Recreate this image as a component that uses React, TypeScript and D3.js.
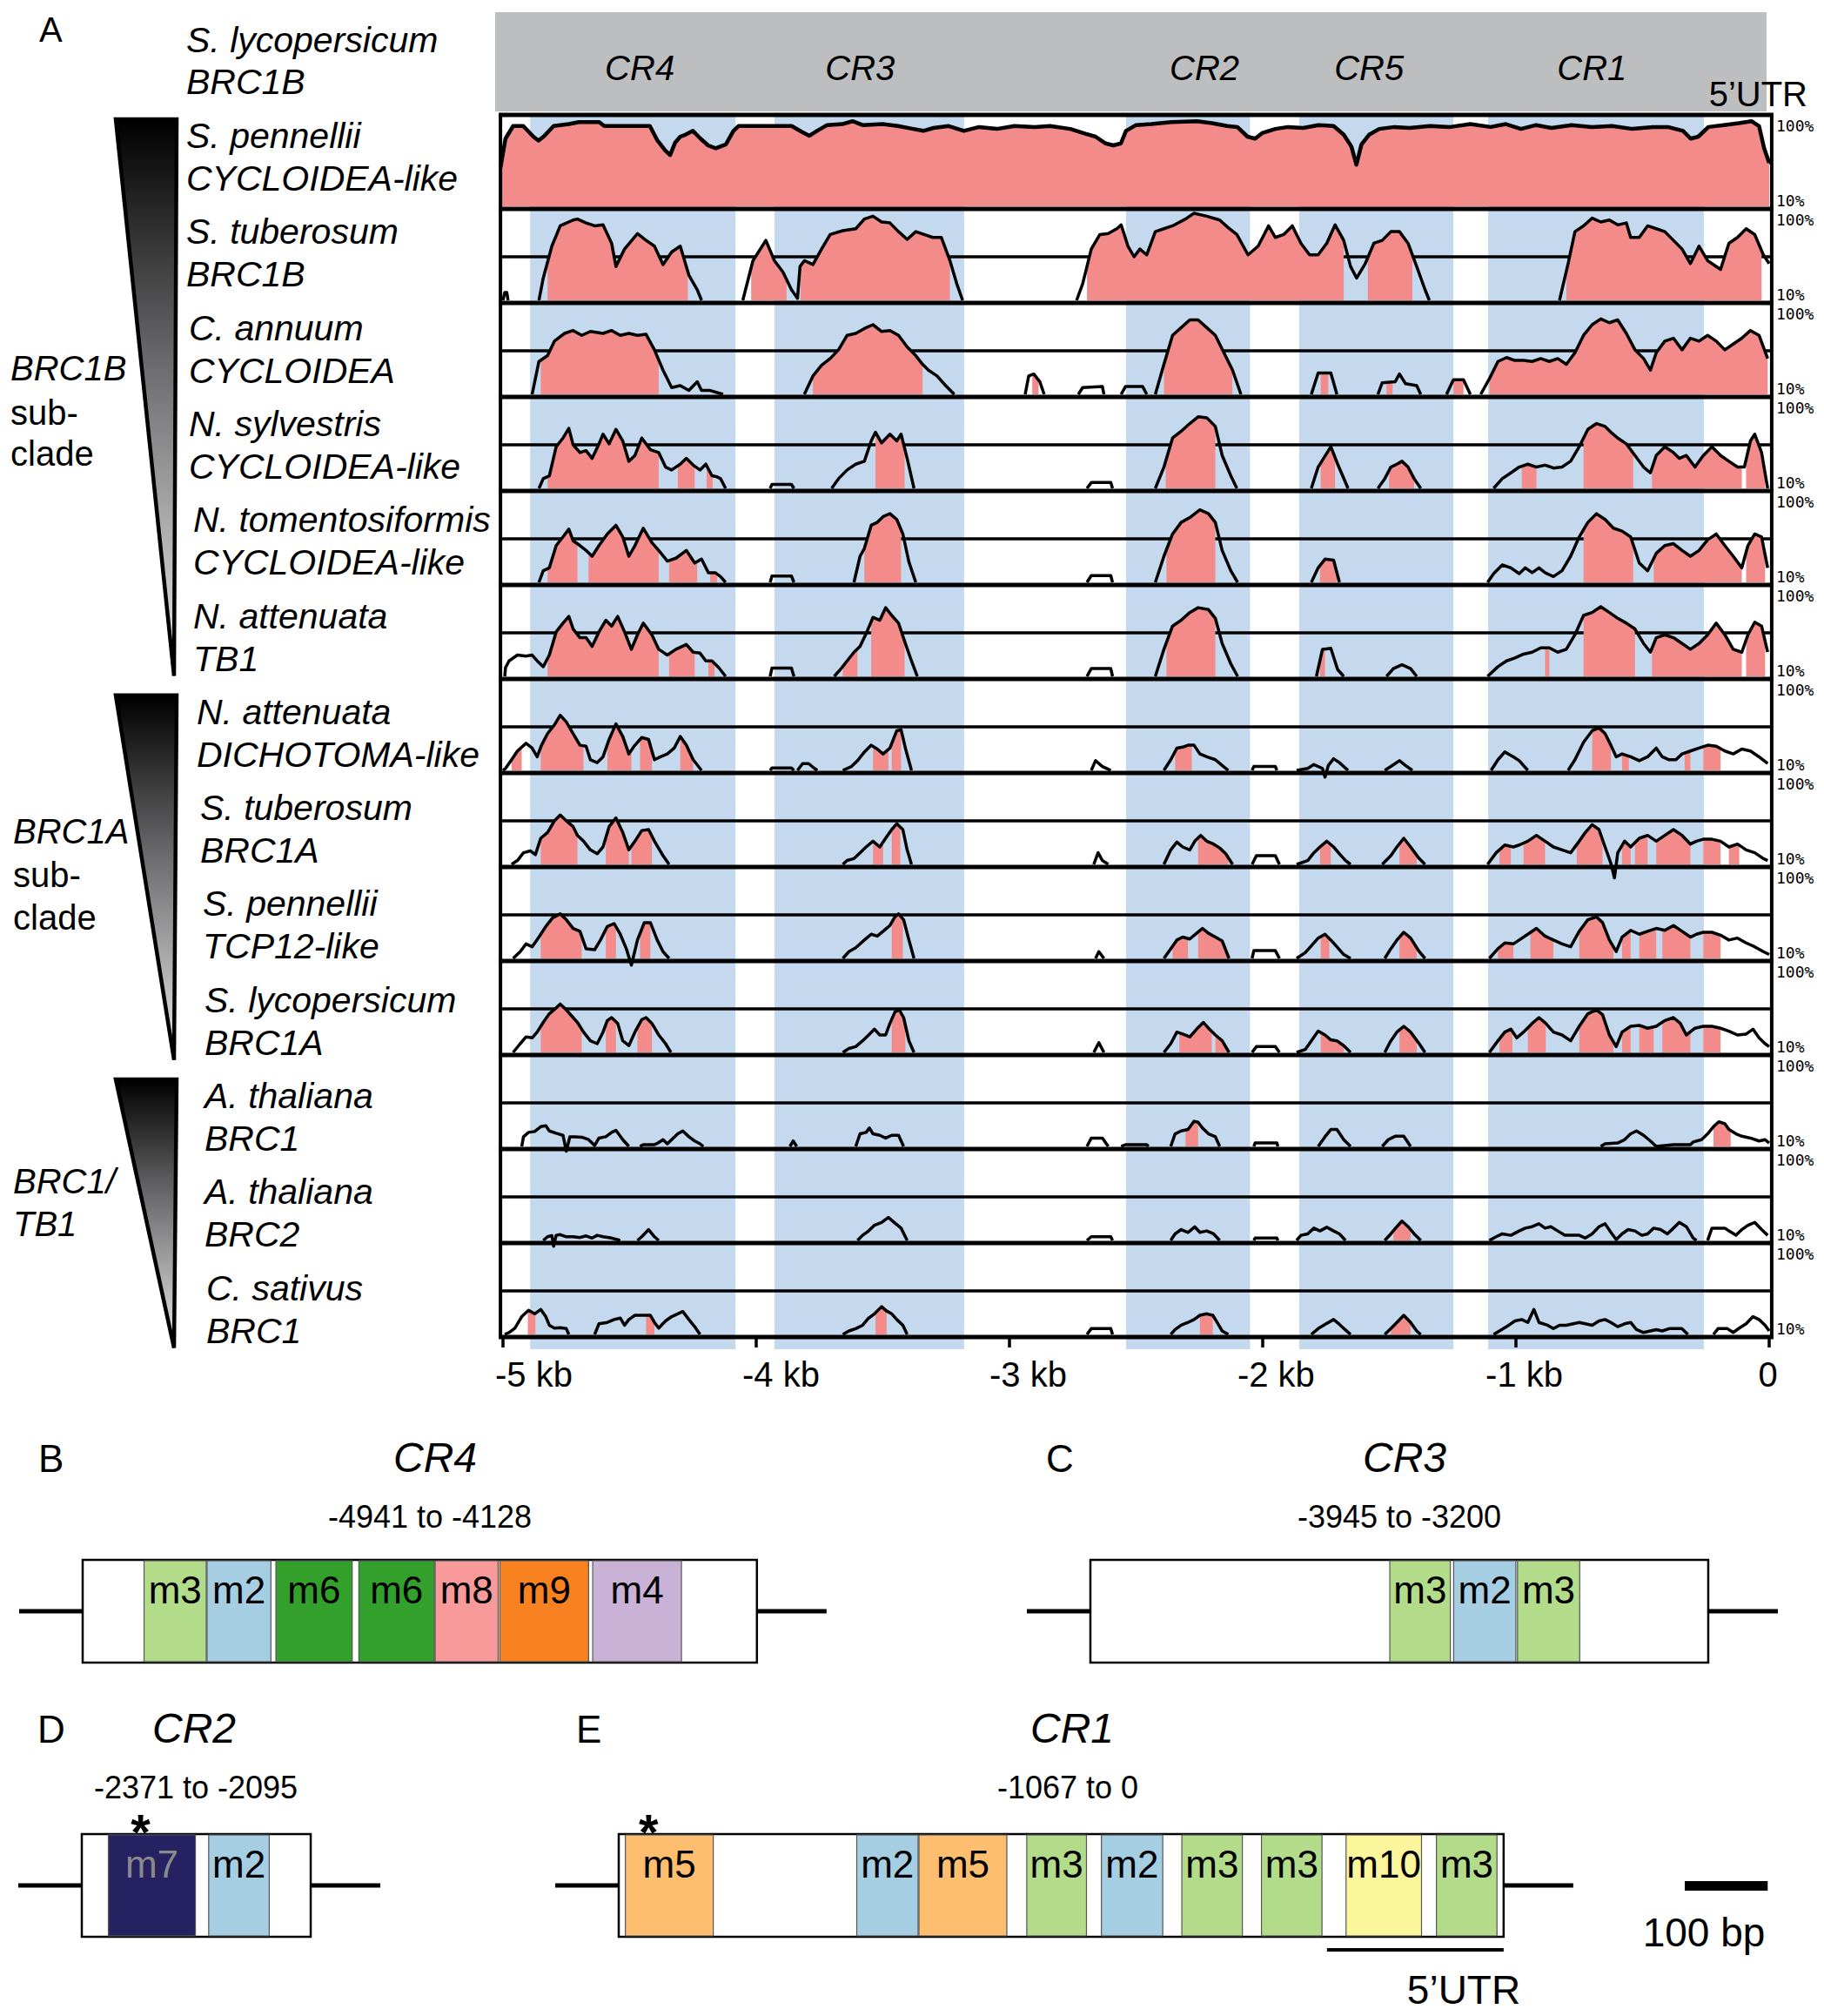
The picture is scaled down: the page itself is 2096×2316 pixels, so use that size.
import React, { useEffect, useRef } from 'react';
import * as d3 from 'd3';

type Pt = [number, number];
type Span = [number, number];
type Motif = [string, number, number];

const W = 2096;
const H = 2316;
const FONT = "'Liberation Sans', Arial, Helvetica, sans-serif";

// ---------- panel A data ----------
const refName = ['S. lycopersicum', 'BRC1B'];
const speciesNames: [string, string][] = [
  ['S. pennellii', 'CYCLOIDEA-like'],
  ['S. tuberosum', 'BRC1B'],
  ['C. annuum', 'CYCLOIDEA'],
  ['N. sylvestris', 'CYCLOIDEA-like'],
  ['N. tomentosiformis', 'CYCLOIDEA-like'],
  ['N. attenuata', 'TB1'],
  ['N. attenuata', 'DICHOTOMA-like'],
  ['S. tuberosum', 'BRC1A'],
  ['S. pennellii', 'TCP12-like'],
  ['S. lycopersicum', 'BRC1A'],
  ['A. thaliana', 'BRC1'],
  ['A. thaliana', 'BRC2'],
  ['C. sativus', 'BRC1'],
];
const cladeNames = [
  { lines: ['BRC1B', 'sub-', 'clade'], italic: [true, false, false], first: 0, last: 5 },
  { lines: ['BRC1A', 'sub-', 'clade'], italic: [true, false, false], first: 6, last: 9 },
  { lines: ['BRC1/', 'TB1'], italic: [true, true], first: 10, last: 12 },
];
const cnsBands: Span[] = [[-4.893, -4.082], [-3.928, -3.179], [-2.54, -2.05], [-1.856, -1.247], [-1.11, -0.258]];
const crNames = ['CR4', 'CR3', 'CR2', 'CR5', 'CR1'];
const crNamePos = [-4.46, -3.59, -2.23, -1.58, -0.7];
const kbTicks = [-5, -4, -3, -2, -1, 0];
const kbTickLabels = ['-5 kb', '-4 kb', '-3 kb', '-2 kb', '-1 kb', '0'];
const kbLabelStart = [-5.031, -4.055, -3.079, -2.1, -1.12, -0.005];
const midLevel = 55;

const sPennelliiCyc: Pt[][] = [[
  [-5.01, 50], [-4.99, 80], [-4.96, 93], [-4.92, 93], [-4.88, 82], [-4.86, 78], [-4.84, 82], [-4.8, 93], [-4.74, 95], [-4.7, 97],
  [-4.62, 97], [-4.6, 93], [-4.42, 93], [-4.39, 78], [-4.36, 68], [-4.34, 63], [-4.32, 76], [-4.3, 82], [-4.28, 84], [-4.25, 88],
  [-4.22, 80], [-4.19, 73], [-4.16, 70], [-4.12, 74], [-4.09, 88], [-4.07, 93], [-3.86, 93], [-3.82, 87], [-3.79, 83], [-3.76, 88],
  [-3.72, 94], [-3.66, 95], [-3.62, 98], [-3.58, 94], [-3.5, 95], [-3.44, 93], [-3.38, 90], [-3.34, 88], [-3.3, 91], [-3.24, 93],
  [-3.18, 88], [-3.12, 92], [-3.05, 90], [-2.98, 93], [-2.9, 92], [-2.84, 93], [-2.76, 90], [-2.7, 85], [-2.66, 82], [-2.62, 75],
  [-2.59, 73], [-2.56, 75], [-2.54, 88], [-2.5, 94], [-2.44, 95], [-2.36, 97], [-2.26, 98], [-2.2, 96], [-2.14, 93], [-2.1, 92],
  [-2.06, 82], [-2.03, 80], [-2.0, 86], [-1.95, 90], [-1.9, 92], [-1.84, 91], [-1.78, 94], [-1.72, 93], [-1.68, 84], [-1.65, 72],
  [-1.63, 53], [-1.61, 74], [-1.58, 84], [-1.54, 90], [-1.48, 92], [-1.42, 91], [-1.34, 93], [-1.26, 92], [-1.18, 95], [-1.1, 92],
  [-1.04, 95], [-0.98, 90], [-0.92, 94], [-0.86, 91], [-0.78, 94], [-0.7, 92], [-0.62, 93], [-0.54, 90], [-0.46, 92], [-0.4, 92],
  [-0.34, 88], [-0.31, 80], [-0.28, 82], [-0.24, 92], [-0.18, 94], [-0.12, 96], [-0.07, 98], [-0.04, 93], [-0.02, 70], [0, 55],
]];
const sPennelliiCycPink: Span[] = [[-5.01, 0]];

const sTuberosumB: Pt[][] = [
  [[-5.0, 10], [-4.993, 18], [-4.985, 18], [-4.98, 10]],
  [[-4.858, 10], [-4.841, 33], [-4.807, 66], [-4.774, 87], [-4.723, 93], [-4.706, 94], [-4.672, 90], [-4.638, 87], [-4.605, 88], [-4.571, 69],
    [-4.554, 45], [-4.52, 63], [-4.469, 79], [-4.435, 72], [-4.402, 66], [-4.368, 47], [-4.334, 60], [-4.3, 66], [-4.266, 36], [-4.233, 21], [-4.216, 10]],
  [[-4.053, 10], [-4.013, 51], [-3.962, 72], [-3.928, 51], [-3.894, 39], [-3.861, 21], [-3.837, 12], [-3.827, 45], [-3.81, 51], [-3.776, 47],
    [-3.742, 63], [-3.708, 78], [-3.658, 82], [-3.607, 84], [-3.573, 94], [-3.539, 97], [-3.505, 91], [-3.472, 90], [-3.438, 81], [-3.404, 73],
    [-3.37, 81], [-3.337, 78], [-3.303, 75], [-3.269, 75], [-3.235, 51], [-3.208, 27], [-3.185, 10]],
  [[-2.735, 10], [-2.711, 27], [-2.677, 63], [-2.643, 78], [-2.61, 79], [-2.576, 84], [-2.559, 88], [-2.532, 66], [-2.508, 55], [-2.485, 63],
    [-2.458, 57], [-2.424, 81], [-2.39, 84], [-2.356, 87], [-2.305, 94], [-2.271, 100], [-2.221, 97], [-2.17, 93], [-2.136, 85], [-2.102, 78],
    [-2.058, 57], [-2.018, 66], [-1.977, 87], [-1.95, 75], [-1.917, 78], [-1.883, 87], [-1.849, 69], [-1.815, 57], [-1.781, 57], [-1.747, 69],
    [-1.714, 88], [-1.68, 72], [-1.653, 45], [-1.629, 33], [-1.595, 48], [-1.561, 69], [-1.528, 72], [-1.494, 81], [-1.46, 81], [-1.426, 69],
    [-1.392, 45], [-1.359, 21], [-1.342, 10]],
  [[-0.828, 10], [-0.794, 48], [-0.767, 81], [-0.733, 87], [-0.699, 95], [-0.665, 91], [-0.631, 93], [-0.598, 88], [-0.564, 90], [-0.547, 75],
    [-0.513, 75], [-0.48, 87], [-0.446, 84], [-0.412, 81], [-0.378, 72], [-0.344, 63], [-0.311, 48], [-0.277, 66], [-0.243, 51], [-0.192, 42],
    [-0.159, 69], [-0.125, 75], [-0.091, 84], [-0.057, 78], [-0.023, 57], [0, 48]],
];
const sTuberosumBPink: Span[] = [[-4.824, -4.27], [-4.02, -3.88], [-3.825, -3.235], [-2.694, -1.68], [-1.585, -1.409], [-0.801, -0.03]];

const cAnnuum: Pt[][] = [
  [[-4.885, 10], [-4.858, 44], [-4.824, 50], [-4.797, 65], [-4.757, 73], [-4.723, 76], [-4.689, 71], [-4.655, 75], [-4.605, 73], [-4.571, 76],
    [-4.537, 71], [-4.503, 73], [-4.469, 71], [-4.435, 72], [-4.402, 56], [-4.368, 35], [-4.334, 17], [-4.3, 19], [-4.266, 14], [-4.233, 23],
    [-4.216, 14], [-4.182, 14], [-4.131, 10]],
  [[-3.81, 10], [-3.776, 29], [-3.742, 40], [-3.708, 47], [-3.675, 56], [-3.641, 71], [-3.607, 73], [-3.573, 78], [-3.539, 82], [-3.505, 75],
    [-3.472, 76], [-3.438, 71], [-3.404, 59], [-3.37, 50], [-3.343, 41], [-3.32, 35], [-3.286, 29], [-3.252, 19], [-3.218, 10]],
  [[-2.938, 10], [-2.924, 29], [-2.904, 31], [-2.88, 23], [-2.863, 10]],
  [[-2.728, 10], [-2.711, 17], [-2.633, 18], [-2.627, 10]],
  [[-2.559, 10], [-2.542, 18], [-2.474, 18], [-2.458, 10]],
  [[-2.424, 10], [-2.39, 41], [-2.356, 71], [-2.322, 79], [-2.288, 87], [-2.255, 87], [-2.221, 79], [-2.187, 71], [-2.153, 53], [-2.119, 35], [-2.086, 10]],
  [[-1.808, 10], [-1.781, 32], [-1.731, 32], [-1.707, 10]],
  [[-1.545, 10], [-1.528, 22], [-1.477, 23], [-1.46, 31], [-1.436, 21], [-1.392, 19], [-1.376, 10]],
  [[-1.274, 10], [-1.247, 25], [-1.207, 25], [-1.18, 10]],
  [[-1.139, 10], [-1.105, 26], [-1.071, 44], [-1.037, 48], [-1.004, 45], [-0.97, 45], [-0.936, 44], [-0.902, 47], [-0.868, 44], [-0.835, 47],
    [-0.801, 41], [-0.767, 53], [-0.733, 71], [-0.699, 82], [-0.665, 88], [-0.631, 84], [-0.598, 87], [-0.564, 73], [-0.53, 56], [-0.496, 47],
    [-0.469, 35], [-0.446, 53], [-0.412, 65], [-0.378, 68], [-0.344, 56], [-0.311, 68], [-0.277, 65], [-0.243, 71], [-0.209, 65], [-0.175, 56],
    [-0.142, 62], [-0.108, 68], [-0.074, 76], [-0.04, 71], [-0.006, 47]],
];
const cAnnuumPink: Span[] = [[-4.851, -4.385], [-3.776, -3.343], [-2.91, -2.885], [-2.39, -2.12], [-1.771, -1.741], [-1.511, -1.487], [-1.247, -1.207], [-1.105, 0]];

const nSylvestris: Pt[][] = [
  [[-4.858, 10], [-4.841, 20], [-4.817, 23], [-4.79, 53], [-4.763, 62], [-4.74, 72], [-4.723, 55], [-4.696, 47], [-4.672, 49], [-4.648, 41],
    [-4.621, 56], [-4.605, 66], [-4.581, 56], [-4.554, 71], [-4.527, 59], [-4.503, 38], [-4.479, 44], [-4.452, 62], [-4.418, 50], [-4.385, 47],
    [-4.358, 32], [-4.334, 29], [-4.3, 35], [-4.276, 41], [-4.249, 34], [-4.222, 29], [-4.199, 35], [-4.175, 23], [-4.155, 22], [-4.141, 20], [-4.121, 10]],
  [[-3.945, 10], [-3.938, 14], [-3.861, 14], [-3.851, 10]],
  [[-3.702, 10], [-3.675, 20], [-3.641, 29], [-3.607, 35], [-3.573, 38], [-3.546, 59], [-3.529, 68], [-3.505, 57], [-3.472, 66], [-3.445, 59],
    [-3.428, 66], [-3.404, 41], [-3.377, 10]],
  [[-2.694, 10], [-2.677, 16], [-2.6, 16], [-2.593, 10]],
  [[-2.424, 10], [-2.39, 32], [-2.356, 62], [-2.322, 69], [-2.288, 77], [-2.255, 84], [-2.221, 83], [-2.187, 74], [-2.16, 44], [-2.126, 23], [-2.102, 10]],
  [[-1.808, 10], [-1.781, 32], [-1.731, 53], [-1.704, 35], [-1.663, 10]],
  [[-1.545, 10], [-1.518, 20], [-1.494, 32], [-1.47, 35], [-1.45, 38], [-1.426, 32], [-1.402, 20], [-1.376, 10]],
  [[-1.088, 10], [-1.054, 20], [-1.02, 26], [-0.987, 32], [-0.953, 35], [-0.919, 32], [-0.885, 34], [-0.852, 31], [-0.818, 32], [-0.784, 38],
    [-0.75, 53], [-0.716, 71], [-0.682, 77], [-0.648, 74], [-0.625, 68], [-0.598, 62], [-0.564, 56], [-0.53, 44], [-0.496, 32], [-0.469, 26],
    [-0.446, 44], [-0.412, 53], [-0.378, 47], [-0.355, 41], [-0.327, 44], [-0.293, 32], [-0.26, 44], [-0.226, 53], [-0.192, 44], [-0.159, 38],
    [-0.125, 32], [-0.098, 32], [-0.074, 59], [-0.057, 66], [-0.03, 47], [-0.006, 10]],
];
const nSylvestrisPink: Span[] = [[-4.824, -4.385], [-4.31, -4.243], [-4.196, -4.172], [-3.529, -3.414], [-2.383, -2.187], [-1.771, -1.714],
  [-1.501, -1.402], [-0.977, -0.919], [-0.733, -0.537], [-0.463, -0.108], [-0.091, -0.016]];

const nTomentosiformis: Pt[][] = [
  [[-4.858, 10], [-4.841, 22], [-4.817, 25], [-4.79, 48], [-4.763, 57], [-4.74, 65], [-4.723, 53], [-4.696, 48], [-4.672, 43], [-4.648, 37],
    [-4.621, 48], [-4.588, 60], [-4.554, 69], [-4.527, 57], [-4.503, 37], [-4.479, 48], [-4.446, 66], [-4.412, 51], [-4.385, 43], [-4.351, 32],
    [-4.317, 35], [-4.276, 43], [-4.243, 30], [-4.216, 34], [-4.189, 20], [-4.162, 20], [-4.141, 16], [-4.121, 10]],
  [[-3.945, 10], [-3.938, 16.5], [-3.861, 16.5], [-3.851, 10]],
  [[-3.614, 10], [-3.59, 37], [-3.573, 45], [-3.546, 69], [-3.522, 72], [-3.499, 78], [-3.472, 81], [-3.445, 75], [-3.421, 60], [-3.397, 31], [-3.37, 10]],
  [[-2.694, 10], [-2.677, 17], [-2.6, 17], [-2.593, 10]],
  [[-2.424, 10], [-2.39, 37], [-2.356, 60], [-2.322, 72], [-2.288, 77], [-2.248, 85], [-2.214, 81], [-2.187, 72], [-2.16, 43], [-2.126, 22], [-2.099, 10]],
  [[-1.808, 10], [-1.781, 25], [-1.754, 34], [-1.72, 33], [-1.697, 10]],
  [[-1.112, 10], [-1.088, 19], [-1.054, 28], [-1.02, 25], [-0.987, 19], [-0.963, 25], [-0.936, 20], [-0.909, 25], [-0.885, 20], [-0.852, 16],
    [-0.818, 22], [-0.784, 37], [-0.75, 57], [-0.716, 72], [-0.682, 81], [-0.648, 75], [-0.615, 66], [-0.581, 63], [-0.547, 57], [-0.513, 30],
    [-0.48, 22], [-0.446, 40], [-0.412, 48], [-0.378, 50], [-0.344, 43], [-0.311, 37], [-0.277, 43], [-0.243, 54], [-0.209, 60], [-0.175, 48],
    [-0.142, 37], [-0.108, 25], [-0.084, 48], [-0.057, 60], [-0.03, 57], [-0.006, 25]],
];
const nTomentosiformisPink: Span[] = [[-4.824, -4.706], [-4.662, -4.385], [-4.344, -4.233], [-4.182, -4.155], [-3.573, -3.428], [-2.38, -2.187],
  [-1.774, -1.707], [-0.733, -0.537], [-0.456, -0.108], [-0.091, -0.016]];

const nAttenuataTB1: Pt[][] = [
  [[-4.993, 10], [-4.99, 19], [-4.976, 26], [-4.943, 32], [-4.909, 31], [-4.885, 32], [-4.865, 26], [-4.841, 20], [-4.817, 32], [-4.79, 56],
    [-4.763, 65], [-4.74, 72], [-4.723, 59], [-4.696, 50], [-4.672, 50], [-4.648, 41], [-4.621, 56], [-4.594, 68], [-4.571, 62], [-4.547, 72],
    [-4.52, 56], [-4.493, 38], [-4.469, 53], [-4.446, 65], [-4.412, 53], [-4.385, 38], [-4.351, 32], [-4.317, 38], [-4.276, 43], [-4.249, 35],
    [-4.222, 34], [-4.199, 26], [-4.175, 26], [-4.148, 19], [-4.121, 10]],
  [[-3.945, 10], [-3.938, 18.5], [-3.861, 18.5], [-3.851, 10]],
  [[-3.692, 10], [-3.668, 17], [-3.641, 26], [-3.614, 35], [-3.59, 41], [-3.563, 56], [-3.539, 71], [-3.512, 68], [-3.489, 81], [-3.465, 73],
    [-3.438, 65], [-3.411, 44], [-3.387, 26], [-3.364, 10]],
  [[-2.694, 10], [-2.677, 18], [-2.6, 18], [-2.593, 10]],
  [[-2.424, 10], [-2.39, 38], [-2.356, 62], [-2.322, 68], [-2.288, 76], [-2.255, 81], [-2.214, 79], [-2.187, 70], [-2.16, 44], [-2.126, 23], [-2.099, 10]],
  [[-1.788, 10], [-1.764, 38], [-1.731, 39], [-1.704, 17], [-1.68, 10]],
  [[-1.511, 10], [-1.484, 18], [-1.45, 22], [-1.416, 18], [-1.392, 10]],
  [[-1.112, 10], [-1.071, 20], [-1.037, 26], [-1.004, 29], [-0.97, 33], [-0.936, 35], [-0.902, 39.5], [-0.868, 39.5], [-0.835, 35], [-0.801, 38],
    [-0.767, 53], [-0.733, 73], [-0.699, 76], [-0.665, 82], [-0.631, 76], [-0.598, 70], [-0.564, 65], [-0.53, 59], [-0.496, 44], [-0.469, 35],
    [-0.446, 50], [-0.412, 53], [-0.378, 50], [-0.344, 44], [-0.311, 38], [-0.277, 44], [-0.243, 53], [-0.209, 65], [-0.175, 53], [-0.142, 38],
    [-0.108, 35], [-0.084, 53], [-0.057, 66], [-0.03, 62], [-0.006, 35]],
];
const nAttenuataTB1Pink: Span[] = [[-4.824, -4.385], [-4.344, -4.243], [-4.189, -4.165], [-3.658, -3.6], [-3.546, -3.414], [-2.38, -2.187],
  [-1.774, -1.754], [-0.885, -0.868], [-0.733, -0.53], [-0.463, -0.108], [-0.091, -0.016]];

const nAttenuataDich: Pt[][] = [
  [[-5.0, 10], [-4.99, 12], [-4.966, 21], [-4.943, 30], [-4.909, 38], [-4.885, 33], [-4.865, 24], [-4.848, 36], [-4.824, 48], [-4.797, 57],
    [-4.774, 67], [-4.75, 60], [-4.723, 48], [-4.696, 36], [-4.672, 35], [-4.655, 21], [-4.628, 18], [-4.605, 24], [-4.581, 42], [-4.554, 58],
    [-4.527, 45], [-4.503, 27], [-4.479, 36], [-4.452, 44], [-4.425, 42], [-4.402, 21], [-4.378, 24], [-4.351, 27], [-4.324, 33], [-4.3, 45],
    [-4.276, 36], [-4.249, 21], [-4.216, 10]],
  [[-3.945, 10], [-3.938, 12.5], [-3.861, 12.5], [-3.851, 10]],
  [[-3.837, 10], [-3.817, 17], [-3.793, 17], [-3.77, 12], [-3.759, 10]],
  [[-3.658, 10], [-3.624, 14], [-3.6, 20], [-3.573, 29], [-3.546, 36], [-3.522, 32], [-3.499, 27], [-3.472, 33], [-3.445, 51], [-3.428, 52],
    [-3.411, 33], [-3.387, 10]],
  [[-2.677, 10], [-2.66, 20], [-2.633, 14], [-2.6, 10]],
  [[-2.39, 10], [-2.363, 21], [-2.339, 33], [-2.316, 34], [-2.295, 36], [-2.271, 36], [-2.248, 27], [-2.221, 24], [-2.187, 21], [-2.16, 15], [-2.136, 10]],
  [[-2.042, 10], [-2.035, 14], [-1.95, 14], [-1.944, 10]],
  [[-1.866, 10], [-1.822, 12], [-1.798, 16], [-1.764, 12], [-1.754, 3], [-1.741, 15], [-1.72, 22], [-1.697, 18], [-1.663, 10]],
  [[-1.518, 10], [-1.494, 14], [-1.46, 20], [-1.436, 15], [-1.409, 10]],
  [[-1.098, 10], [-1.071, 21], [-1.044, 29], [-1.01, 24], [-0.987, 20], [-0.953, 10]],
  [[-0.794, 10], [-0.767, 21], [-0.733, 39], [-0.699, 51], [-0.672, 54], [-0.648, 48], [-0.625, 36], [-0.604, 24], [-0.581, 27], [-0.547, 24],
    [-0.513, 20], [-0.48, 24], [-0.446, 33], [-0.422, 24], [-0.395, 21], [-0.368, 21], [-0.344, 27], [-0.311, 30], [-0.277, 33], [-0.243, 36],
    [-0.209, 35], [-0.175, 30], [-0.142, 27], [-0.108, 32], [-0.074, 30], [-0.04, 24], [-0.006, 17]],
];
const nAttenuataDichPink: Span[] = [[-4.966, -4.926], [-4.851, -4.682], [-4.588, -4.493], [-4.459, -4.412], [-4.3, -4.249], [-3.539, -3.478],
  [-3.465, -3.428], [-2.346, -2.28], [-0.699, -0.625], [-0.581, -0.554], [-0.334, -0.311], [-0.26, -0.192]];

const sTuberosumA: Pt[][] = [
  [[-4.966, 10], [-4.943, 14], [-4.919, 22], [-4.892, 24], [-4.872, 20], [-4.851, 37], [-4.824, 43], [-4.797, 55], [-4.774, 61], [-4.75, 55],
    [-4.723, 49], [-4.706, 40], [-4.682, 34], [-4.655, 25], [-4.628, 21], [-4.605, 28], [-4.581, 49], [-4.554, 58], [-4.527, 43], [-4.503, 25],
    [-4.479, 34], [-4.452, 45], [-4.425, 46], [-4.402, 34], [-4.368, 19], [-4.344, 10]],
  [[-3.658, 10], [-3.641, 14], [-3.614, 16], [-3.59, 22], [-3.566, 28], [-3.539, 34], [-3.512, 28], [-3.489, 37], [-3.465, 46], [-3.445, 52],
    [-3.421, 46], [-3.404, 25], [-3.387, 10]],
  [[-2.667, 10], [-2.65, 22], [-2.633, 14], [-2.61, 10]],
  [[-2.39, 10], [-2.363, 25], [-2.339, 33], [-2.316, 28], [-2.288, 25], [-2.268, 34], [-2.245, 40], [-2.221, 34], [-2.194, 31], [-2.17, 27],
    [-2.146, 21], [-2.119, 10]],
  [[-2.042, 10], [-2.025, 19], [-1.95, 19], [-1.934, 10]],
  [[-1.866, 10], [-1.822, 14], [-1.798, 22], [-1.774, 28], [-1.747, 34], [-1.72, 28], [-1.697, 21], [-1.673, 14], [-1.653, 10]],
  [[-1.528, 10], [-1.494, 19], [-1.47, 28], [-1.443, 37], [-1.416, 28], [-1.382, 16], [-1.359, 10]],
  [[-1.112, 10], [-1.078, 22], [-1.044, 30], [-1.01, 28], [-0.987, 30], [-0.953, 34], [-0.919, 40], [-0.885, 34], [-0.852, 28], [-0.818, 25],
    [-0.784, 22], [-0.75, 34], [-0.726, 43], [-0.699, 51], [-0.672, 46], [-0.648, 28], [-0.625, 11], [-0.611, -4], [-0.598, 22], [-0.571, 34],
    [-0.547, 28], [-0.513, 37], [-0.48, 40], [-0.446, 34], [-0.412, 40], [-0.378, 46], [-0.344, 40], [-0.311, 31], [-0.287, 34], [-0.26, 36],
    [-0.226, 36], [-0.192, 34], [-0.159, 28], [-0.125, 31], [-0.091, 25], [-0.057, 22], [-0.023, 16], [-0.006, 14]],
];
const sTuberosumAPink: Span[] = [[-4.851, -4.706], [-4.594, -4.503], [-4.493, -4.412], [-3.539, -3.499], [-3.465, -3.431], [-2.255, -2.136],
  [-1.774, -1.731], [-1.46, -1.392], [-1.065, -1.02], [-0.97, -0.885], [-0.76, -0.658], [-0.581, -0.547], [-0.53, -0.48], [-0.446, -0.311],
  [-0.26, -0.192], [-0.159, -0.118]];

const sPennelliiTcp12: Pt[][] = [
  [[-4.96, 10], [-4.932, 17], [-4.909, 25], [-4.885, 22], [-4.858, 32], [-4.831, 43], [-4.804, 52], [-4.774, 56], [-4.75, 50], [-4.723, 41],
    [-4.696, 38], [-4.672, 20], [-4.638, 19], [-4.615, 29], [-4.588, 43], [-4.561, 46], [-4.537, 35], [-4.513, 20], [-4.493, 3], [-4.469, 29],
    [-4.442, 47], [-4.418, 47], [-4.391, 29], [-4.368, 17], [-4.344, 10]],
  [[-3.658, 10], [-3.634, 17], [-3.607, 21], [-3.573, 29], [-3.546, 35], [-3.522, 33], [-3.499, 38], [-3.472, 44], [-3.452, 53], [-3.438, 56],
    [-3.418, 50], [-3.397, 29], [-3.377, 10]],
  [[-2.66, 10], [-2.647, 17], [-2.627, 10]],
  [[-2.39, 10], [-2.363, 20], [-2.339, 29], [-2.316, 32], [-2.288, 30], [-2.261, 36], [-2.238, 41], [-2.214, 36], [-2.187, 32], [-2.16, 28], [-2.133, 10]],
  [[-2.042, 10], [-2.035, 18], [-1.95, 18], [-1.934, 10]],
  [[-1.866, 10], [-1.832, 16], [-1.808, 23], [-1.781, 31], [-1.754, 35], [-1.731, 29], [-1.707, 22], [-1.68, 14], [-1.653, 10]],
  [[-1.518, 10], [-1.494, 20], [-1.47, 29], [-1.443, 37], [-1.416, 31], [-1.382, 17], [-1.359, 10]],
  [[-1.105, 10], [-1.071, 20], [-1.044, 26], [-1.01, 25], [-0.987, 29], [-0.953, 35], [-0.919, 41], [-0.885, 33], [-0.852, 29], [-0.818, 25],
    [-0.784, 22], [-0.75, 38], [-0.716, 50], [-0.682, 53], [-0.658, 47], [-0.631, 29], [-0.604, 17], [-0.581, 32], [-0.547, 39], [-0.513, 35],
    [-0.48, 38], [-0.446, 41], [-0.412, 39], [-0.378, 44], [-0.344, 38], [-0.311, 32], [-0.287, 35], [-0.26, 37], [-0.226, 37], [-0.192, 34],
    [-0.159, 29], [-0.125, 31], [-0.091, 26], [-0.057, 22], [-0.023, 17], [0, 14]],
];
const sPennelliiTcp12Pink: Span[] = [[-4.851, -4.689], [-4.594, -4.554], [-4.459, -4.418], [-3.465, -3.421], [-2.356, -2.295], [-2.255, -2.136],
  [-1.771, -1.737], [-1.46, -1.392], [-1.071, -1.01], [-0.943, -0.852], [-0.75, -0.615], [-0.581, -0.547], [-0.513, -0.446], [-0.422, -0.311],
  [-0.26, -0.192]];

const sLycopersicumA: Pt[][] = [
  [[-4.96, 10], [-4.932, 19], [-4.909, 26], [-4.885, 25], [-4.865, 31], [-4.841, 41], [-4.817, 50], [-4.79, 56], [-4.774, 60], [-4.75, 54],
    [-4.723, 46], [-4.706, 41], [-4.682, 31], [-4.655, 22], [-4.628, 19], [-4.605, 31], [-4.588, 43], [-4.571, 46], [-4.547, 40], [-4.527, 22],
    [-4.503, 17], [-4.479, 31], [-4.452, 44], [-4.435, 46], [-4.412, 40], [-4.385, 28], [-4.358, 19], [-4.337, 10]],
  [[-3.658, 10], [-3.634, 14], [-3.607, 16], [-3.58, 22], [-3.556, 28], [-3.533, 34], [-3.512, 28], [-3.489, 28], [-3.472, 40], [-3.452, 52],
    [-3.435, 54], [-3.418, 46], [-3.397, 22], [-3.377, 10]],
  [[-2.667, 10], [-2.647, 20], [-2.627, 10]],
  [[-2.39, 10], [-2.363, 19], [-2.339, 31], [-2.316, 29], [-2.288, 26], [-2.261, 34], [-2.234, 41], [-2.214, 35], [-2.187, 28], [-2.16, 22], [-2.133, 10]],
  [[-2.042, 10], [-2.025, 16], [-1.95, 16], [-1.934, 10]],
  [[-1.866, 10], [-1.832, 13], [-1.808, 22], [-1.781, 32], [-1.754, 28], [-1.731, 23], [-1.707, 22], [-1.68, 17], [-1.653, 10]],
  [[-1.518, 10], [-1.494, 22], [-1.47, 31], [-1.443, 37], [-1.416, 31], [-1.382, 19], [-1.359, 10]],
  [[-1.105, 10], [-1.071, 22], [-1.044, 31], [-1.02, 34], [-0.997, 25], [-0.97, 31], [-0.936, 40], [-0.909, 46], [-0.882, 40], [-0.852, 31],
    [-0.818, 28], [-0.784, 22], [-0.75, 37], [-0.716, 50], [-0.682, 54], [-0.658, 49], [-0.631, 28], [-0.604, 16], [-0.581, 31], [-0.547, 37],
    [-0.513, 38], [-0.48, 35], [-0.446, 37], [-0.412, 43], [-0.378, 46], [-0.351, 40], [-0.327, 28], [-0.293, 35], [-0.26, 37], [-0.226, 37],
    [-0.192, 35], [-0.159, 32], [-0.125, 28], [-0.091, 29], [-0.064, 34], [-0.04, 25], [-0.016, 19], [0, 16]],
];
const sLycopersicumAPink: Span[] = [[-4.851, -4.689], [-4.594, -4.554], [-4.469, -4.412], [-3.465, -3.411], [-2.329, -2.201], [-2.187, -2.14],
  [-1.771, -1.68], [-1.46, -1.392], [-1.065, -1.014], [-0.953, -0.882], [-0.75, -0.615], [-0.581, -0.547], [-0.513, -0.456], [-0.422, -0.311],
  [-0.26, -0.192]];

const aThalianaBrc1: Pt[][] = [
  [[-4.926, 10], [-4.919, 20], [-4.899, 24.5], [-4.875, 25.4], [-4.851, 30.4], [-4.831, 31.3], [-4.817, 26], [-4.79, 23.6], [-4.763, 21.5],
    [-4.75, 5], [-4.736, 20], [-4.716, 20], [-4.689, 19.5], [-4.662, 17], [-4.638, 11], [-4.621, 18.6], [-4.594, 20], [-4.571, 24.5],
    [-4.554, 26.6], [-4.527, 17], [-4.503, 10]],
  [[-4.459, 10], [-4.446, 11.8], [-4.402, 11.8], [-4.385, 14], [-4.368, 17], [-4.351, 12.7], [-4.334, 17], [-4.31, 23], [-4.29, 26],
    [-4.266, 20], [-4.243, 15.6], [-4.222, 12.7], [-4.209, 10]],
  [[-3.867, 10], [-3.854, 15.6], [-3.84, 10]],
  [[-3.607, 10], [-3.59, 23], [-3.566, 24.5], [-3.553, 29], [-3.539, 23], [-3.512, 21.5], [-3.489, 18.6], [-3.465, 21.5], [-3.438, 21.5], [-3.418, 10]],
  [[-2.694, 10], [-2.677, 18.6], [-2.633, 18.6], [-2.61, 10]],
  [[-2.559, 10], [-2.542, 11.8], [-2.458, 11.8], [-2.451, 10]],
  [[-2.363, 10], [-2.346, 23], [-2.322, 26], [-2.295, 27.5], [-2.271, 36], [-2.255, 35], [-2.238, 29], [-2.214, 23], [-2.187, 20], [-2.17, 10]],
  [[-2.035, 10], [-2.03, 13.5], [-1.944, 13.5], [-1.94, 10]],
  [[-1.781, 10], [-1.754, 20], [-1.731, 27.5], [-1.707, 27.5], [-1.68, 17], [-1.653, 10]],
  [[-1.528, 10], [-1.504, 17], [-1.477, 20.5], [-1.443, 20.5], [-1.416, 10]],
  [[-0.665, 10], [-0.648, 12.7], [-0.598, 13.5], [-0.571, 17], [-0.547, 23], [-0.524, 26], [-0.496, 21.5], [-0.469, 15.6], [-0.446, 10],
    [-0.378, 11.8], [-0.311, 11.8], [-0.3, 14.6], [-0.267, 17], [-0.243, 23], [-0.22, 30.4], [-0.199, 35.5], [-0.175, 33.4], [-0.159, 27.5],
    [-0.131, 23], [-0.108, 20.5], [-0.074, 18.6], [-0.04, 15.6], [-0.016, 17], [0, 13.5]],
];
const aThalianaBrc1Pink: Span[] = [[-2.305, -2.255], [-0.22, -0.152]];

const aThalianaBrc2: Pt[][] = [
  [[-4.841, 10], [-4.824, 13.8], [-4.807, 15], [-4.8, 4], [-4.79, 15.3], [-4.774, 16], [-4.75, 13.8], [-4.723, 13.8], [-4.696, 13],
    [-4.672, 14.7], [-4.648, 12.4], [-4.628, 15.3], [-4.605, 13.8], [-4.571, 12.4], [-4.537, 10]],
  [[-4.469, 10], [-4.452, 13.8], [-4.425, 21.2], [-4.402, 13.8], [-4.385, 10]],
  [[-3.6, 10], [-3.58, 15.3], [-3.556, 19.8], [-3.533, 25.7], [-3.505, 28.6], [-3.478, 33.7], [-3.455, 28.6], [-3.428, 22.7], [-3.404, 10]],
  [[-2.694, 10], [-2.677, 13.8], [-2.6, 13.8], [-2.593, 10]],
  [[-2.363, 10], [-2.346, 16.8], [-2.322, 21.2], [-2.295, 18.3], [-2.268, 24], [-2.248, 18.3], [-2.221, 19.8], [-2.194, 16.8], [-2.17, 10]],
  [[-2.035, 10], [-2.03, 12.4], [-1.944, 12.4], [-1.94, 10]],
  [[-1.866, 10], [-1.849, 15.3], [-1.822, 16.8], [-1.798, 22.7], [-1.774, 19.8], [-1.747, 23.6], [-1.72, 19.8], [-1.697, 16.8], [-1.673, 10]],
  [[-1.518, 10], [-1.494, 16.8], [-1.47, 24.2], [-1.45, 30], [-1.426, 24.2], [-1.402, 16.8], [-1.376, 10]],
  [[-1.105, 10], [-1.078, 13.8], [-1.054, 16.8], [-1.02, 15.3], [-0.987, 19.8], [-0.963, 22.7], [-0.936, 24.2], [-0.909, 27.2], [-0.885, 22.7],
    [-0.862, 24.2], [-0.835, 19.8], [-0.807, 15.3], [-0.784, 15.3], [-0.75, 15.3], [-0.726, 12.4], [-0.699, 16.8], [-0.672, 24.2], [-0.648, 27.2],
    [-0.625, 18.3], [-0.604, 10.9], [-0.581, 16.8], [-0.557, 21.2], [-0.53, 19.8], [-0.503, 15.3], [-0.48, 16.8], [-0.456, 22.7], [-0.429, 21.2],
    [-0.402, 16.8], [-0.378, 22.7], [-0.355, 28.6], [-0.327, 24.2], [-0.3, 12.4], [-0.287, 10]],
  [[-0.243, 10], [-0.226, 22.7], [-0.175, 22.7], [-0.159, 19.8], [-0.131, 15.3], [-0.108, 21.2], [-0.084, 25.7], [-0.057, 28.6], [-0.03, 21.2],
    [-0.006, 15.3]],
];
const aThalianaBrc2Pink: Span[] = [[-1.484, -1.416]];

const cSativus: Pt[][] = [
  [[-4.993, 10], [-4.976, 12], [-4.953, 16.5], [-4.926, 28.4], [-4.899, 34.9], [-4.875, 31.3], [-4.851, 35.8], [-4.831, 28.4], [-4.817, 19.5],
    [-4.797, 16.5], [-4.774, 17], [-4.75, 16], [-4.74, 10]],
  [[-4.638, 10], [-4.621, 21], [-4.588, 22.4], [-4.561, 25.4], [-4.537, 26.9], [-4.52, 19.5], [-4.503, 25.4], [-4.479, 29.8], [-4.452, 29.8],
    [-4.418, 29.8], [-4.402, 22.4], [-4.385, 16.5], [-4.358, 24], [-4.334, 28.4], [-4.31, 31.3], [-4.29, 33.7], [-4.266, 25.4], [-4.243, 18], [-4.222, 10]],
  [[-3.658, 10], [-3.634, 13.6], [-3.607, 16], [-3.58, 19.5], [-3.556, 26.9], [-3.533, 31.3], [-3.505, 38.7], [-3.485, 34.2], [-3.465, 31.3],
    [-3.445, 25.4], [-3.421, 19.5], [-3.404, 10]],
  [[-2.694, 10], [-2.677, 16], [-2.6, 16], [-2.593, 10]],
  [[-2.363, 10], [-2.346, 15], [-2.322, 19.5], [-2.295, 22.4], [-2.271, 25.4], [-2.248, 29.8], [-2.221, 31.3], [-2.197, 29.8], [-2.18, 22.4],
    [-2.16, 13.6], [-2.136, 10]],
  [[-1.808, 10], [-1.781, 16], [-1.754, 20.4], [-1.72, 25.4], [-1.697, 20.4], [-1.673, 14.6], [-1.653, 10]],
  [[-1.518, 10], [-1.494, 16], [-1.47, 22.4], [-1.443, 29.8], [-1.416, 22.4], [-1.392, 13.6], [-1.376, 10]],
  [[-1.088, 10], [-1.065, 13.6], [-1.037, 18], [-1.004, 24], [-0.977, 25.4], [-0.953, 22.4], [-0.929, 35.8], [-0.909, 22.4], [-0.875, 19.5],
    [-0.852, 16], [-0.828, 19.5], [-0.801, 19.5], [-0.774, 21], [-0.75, 22.4], [-0.726, 21], [-0.699, 19.5], [-0.672, 24], [-0.648, 25.4],
    [-0.625, 22.4], [-0.598, 18], [-0.571, 21], [-0.547, 22.4], [-0.524, 15], [-0.496, 12], [-0.469, 13.6], [-0.446, 15], [-0.422, 13.6],
    [-0.395, 16], [-0.368, 16], [-0.345, 16], [-0.321, 10]],
  [[-0.22, 10], [-0.202, 16], [-0.165, 16], [-0.142, 12], [-0.118, 16.5], [-0.091, 21], [-0.064, 28.4], [-0.04, 25.4], [-0.016, 19.5], [0, 13.6]],
];
const cSativusPink: Span[] = [[-4.902, -4.872], [-4.435, -4.402], [-3.529, -3.485], [-2.248, -2.197], [-1.494, -1.416]];

const profiles = [
  { segs: sPennelliiCyc, pink: sPennelliiCycPink },
  { segs: sTuberosumB, pink: sTuberosumBPink },
  { segs: cAnnuum, pink: cAnnuumPink },
  { segs: nSylvestris, pink: nSylvestrisPink },
  { segs: nTomentosiformis, pink: nTomentosiformisPink },
  { segs: nAttenuataTB1, pink: nAttenuataTB1Pink },
  { segs: nAttenuataDich, pink: nAttenuataDichPink },
  { segs: sTuberosumA, pink: sTuberosumAPink },
  { segs: sPennelliiTcp12, pink: sPennelliiTcp12Pink },
  { segs: sLycopersicumA, pink: sLycopersicumAPink },
  { segs: aThalianaBrc1, pink: aThalianaBrc1Pink },
  { segs: aThalianaBrc2, pink: aThalianaBrc2Pink },
  { segs: cSativus, pink: cSativusPink },
];

// ---------- panels B-E data (bp upstream of start codon) ----------
const cr4Range: Span = [-4941, -4128];
const cr4Motifs: Motif[] = [['m3', -4867, -4792], ['m2', -4791, -4714], ['m6', -4708, -4616], ['m6', -4608, -4517],
  ['m8', -4516, -4440], ['m9', -4438, -4331], ['m4', -4326, -4219]];
const cr3Range: Span = [-3945, -3200];
const cr3Motifs: Motif[] = [['m3', -3584, -3511], ['m2', -3507, -3432], ['m3', -3430, -3355]];
const cr2Range: Span = [-2371, -2095];
const cr2Motifs: Motif[] = [['m7', -2339, -2234], ['m2', -2218, -2145]];
const cr1Range: Span = [-1067, 0];
const cr1Motifs: Motif[] = [['m5', -1059, -953], ['m2', -780, -706], ['m5', -705, -599], ['m3', -575, -503], ['m2', -485, -411],
  ['m3', -388, -315], ['m3', -292, -219], ['m10', -190, -99], ['m3', -81, -8]];
const cr2Star = -2300;
const cr1Star = -1031;
const utrSpan: Span = [-213, 0];
const scaleBarBp = 100;

const motifColors: Record<string, string> = {
  m2: '#a6cee3', m3: '#b2dc8a', m4: '#cab2d6', m5: '#fdbf6f', m6: '#33a02c',
  m7: '#262262', m8: '#f89a9a', m9: '#f7821f', m10: '#fbf59b',
};

export default function App() {
  const ref = useRef<SVGSVGElement>(null);

  useEffect(() => {
    if (!ref.current) return;
    const svg = d3.select(ref.current);
    svg.selectAll('*').remove();

    const x = d3.scaleLinear().domain([-5, 0]).range([578, 2033]);
    const rowH = 108;
    const top0 = 132;
    const nRows = profiles.length;
    const rowTop = (i: number) => top0 + i * rowH;
    const plotL = x(-5.01);
    const plotR = x(0.01);
    const plotB = rowTop(nRows);
    const pink = '#f38b8b';

    const defs = svg.append('defs');
    const grad = defs.append('linearGradient').attr('id', 'clade-grad')
      .attr('x1', 0).attr('y1', 0).attr('x2', 0).attr('y2', 1);
    grad.append('stop').attr('offset', '0%').attr('stop-color', '#000');
    grad.append('stop').attr('offset', '45%').attr('stop-color', '#6e6e70');
    grad.append('stop').attr('offset', '100%').attr('stop-color', '#e8e8e8');

    // header bar
    svg.append('rect').attr('x', 569).attr('y', 14).attr('width', 2030 - 569).attr('height', 114).attr('fill', '#bdbec0');
    crNames.forEach((n, i) => {
      svg.append('text').attr('x', x(crNamePos[i])).attr('y', 92).attr('text-anchor', 'middle')
        .style('font-family', FONT).style('font-size', '40px').style('font-style', 'italic').text(n);
    });
    svg.append('text').attr('x', 2077).attr('y', 122).attr('text-anchor', 'end')
      .style('font-family', FONT).style('font-size', '40px').text('5\u2019UTR');

    // conserved blocks
    cnsBands.forEach(([a, b]) => {
      svg.append('rect').attr('x', x(a)).attr('y', top0).attr('width', x(b) - x(a)).attr('height', 1550 - top0)
        .attr('fill', '#c5d9ee');
    });

    profiles.forEach((p, i) => {
      const t = rowTop(i);
      const y = d3.scaleLinear().domain([10, 100]).range([t + 105, t + 5]);
      const g = svg.append('g');

      g.append('line').attr('x1', plotL).attr('x2', plotR).attr('y1', y(midLevel)).attr('y2', y(midLevel))
        .attr('stroke', '#000').attr('stroke-width', 3.5);

      const clip = defs.append('clipPath').attr('id', `pink-${i}`);
      p.pink.forEach(([a, b]) => {
        clip.append('rect').attr('x', x(a)).attr('y', t).attr('width', x(b) - x(a)).attr('height', rowH);
      });
      const area = d3.area<Pt>().x(d => x(d[0])).y0(y(10)).y1(d => y(d[1]));
      const line = d3.line<Pt>().x(d => x(d[0])).y(d => y(d[1]));
      p.segs.forEach(s => {
        g.append('path').attr('d', area(s) || '').attr('fill', pink).attr('clip-path', `url(#pink-${i})`);
      });
      p.segs.forEach(s => {
        g.append('path').attr('d', line(s) || '').attr('fill', 'none').attr('stroke', '#000')
          .attr('stroke-width', i === 0 ? 4.5 : 3.5).attr('stroke-linejoin', 'round');
      });

      svg.append('text').attr('x', 2041).attr('y', t + 19)
        .style('font-family', "'DejaVu Sans Mono', monospace").style('font-size', '18px').text('100%');
      svg.append('text').attr('x', 2041).attr('y', t + rowH - 3)
        .style('font-family', "'DejaVu Sans Mono', monospace").style('font-size', '18px').text('10%');
    });

    // row frames
    d3.range(nRows + 1).forEach(i => {
      svg.append('line').attr('x1', plotL - 2).attr('x2', plotR + 2).attr('y1', rowTop(i)).attr('y2', rowTop(i))
        .attr('stroke', '#000').attr('stroke-width', 5);
    });
    [plotL, plotR].forEach(px => {
      svg.append('line').attr('x1', px).attr('x2', px).attr('y1', top0).attr('y2', plotB)
        .attr('stroke', '#000').attr('stroke-width', 4);
    });

    // kb axis
    kbTicks.forEach((k, i) => {
      svg.append('line').attr('x1', x(k)).attr('x2', x(k)).attr('y1', plotB).attr('y2', plotB + 12)
        .attr('stroke', '#000').attr('stroke-width', 3.5);
      svg.append('text').attr('x', x(kbLabelStart[i])).attr('y', 1593)
        .attr('text-anchor', k === 0 ? 'middle' : 'start')
        .style('font-family', FONT).style('font-size', '40px').text(kbTickLabels[i]);
    });

    // species labels
    const labelX = [214, 214, 217, 217, 222, 222, 226, 230, 233, 235, 235, 235, 237];
    const line1 = (r: number) => 170 + 110.3 * r;
    const line2 = (r: number) => 219 + 110.3 * r;
    const lab = (tx: number, ty: number, s: string, italic = true, size = 41) =>
      svg.append('text').attr('x', tx).attr('y', ty).style('font-family', FONT).style('font-size', `${size}px`)
        .style('font-style', italic ? 'italic' : 'normal').text(s);
    lab(214, 60, refName[0]);
    lab(214, 108, refName[1]);
    speciesNames.forEach(([a, b], r) => {
      lab(labelX[r], line1(r), a);
      lab(labelX[r], line2(r), b);
    });
    svg.append('text').attr('x', 45).attr('y', 48).style('font-family', FONT).style('font-size', '40px').text('A');

    // clade triangles
    const cladeBase = [[437, 488, 535], [969, 1019, 1068], [1371, 1420]];
    const cladeX = [12, 15, 15];
    cladeNames.forEach((c, ci) => {
      const yt = line1(c.first) - 33;
      const yb = line2(c.last) + 6;
      svg.append('polygon').attr('points', `133,${yt} 203,${yt} 200,${yb}`)
        .attr('fill', 'url(#clade-grad)').attr('stroke', '#000').attr('stroke-width', 4.5).attr('stroke-linejoin', 'miter');
      c.lines.forEach((s, li) => lab(cladeX[ci], cladeBase[ci][li], s, c.italic[li], 40));
    });

    // ---------- motif maps ----------
    const pxPerBp = 0.953;
    const boxH = 118;
    const panels = [
      { letter: 'B', letterX: 44, title: 'CR4', titleX: 500, rangeX: 494, baseY: 1691, range: cr4Range, motifs: cr4Motifs, x0: 95, boxTop: 1792, star: null as number | null },
      { letter: 'C', letterX: 1202, title: 'CR3', titleX: 1614, rangeX: 1608, baseY: 1691, range: cr3Range, motifs: cr3Motifs, x0: 1253, boxTop: 1792, star: null },
      { letter: 'D', letterX: 43, title: 'CR2', titleX: 223, rangeX: 225, baseY: 2002, range: cr2Range, motifs: cr2Motifs, x0: 94, boxTop: 2107, star: cr2Star },
      { letter: 'E', letterX: 662, title: 'CR1', titleX: 1232, rangeX: 1227, baseY: 2002, range: cr1Range, motifs: cr1Motifs, x0: 711, boxTop: 2107, star: cr1Star },
    ];
    let e1Scale: d3.ScaleLinear<number, number> | null = null;
    panels.forEach(pn => {
      const bx = d3.scaleLinear().domain(pn.range).range([pn.x0, pn.x0 + (pn.range[1] - pn.range[0]) * pxPerBp]);
      if (pn.letter === 'E') e1Scale = bx;
      const x1 = bx(pn.range[1]);
      const midY = pn.boxTop + boxH / 2;
      svg.append('text').attr('x', pn.letterX).attr('y', pn.baseY).style('font-family', FONT).style('font-size', '44px').text(pn.letter);
      svg.append('text').attr('x', pn.titleX).attr('y', pn.baseY).attr('text-anchor', 'middle')
        .style('font-family', FONT).style('font-size', '48px').style('font-style', 'italic').text(pn.title);
      svg.append('text').attr('x', pn.rangeX).attr('y', pn.baseY + 64).attr('text-anchor', 'middle')
        .style('font-family', FONT).style('font-size', '36px').text(`${pn.range[0]} to ${pn.range[1]}`);
      svg.append('line').attr('x1', pn.x0 - 73).attr('x2', pn.x0).attr('y1', midY).attr('y2', midY).attr('stroke', '#000').attr('stroke-width', 5);
      svg.append('line').attr('x1', x1).attr('x2', x1 + 80).attr('y1', midY).attr('y2', midY).attr('stroke', '#000').attr('stroke-width', 5);
      svg.append('rect').attr('x', pn.x0).attr('y', pn.boxTop).attr('width', x1 - pn.x0).attr('height', boxH)
        .attr('fill', '#fff').attr('stroke', '#000').attr('stroke-width', 2.5);
      pn.motifs.forEach(([m, a, b]) => {
        svg.append('rect').attr('x', bx(a)).attr('y', pn.boxTop + 1).attr('width', bx(b) - bx(a)).attr('height', boxH - 2)
          .attr('fill', motifColors[m]).attr('stroke', '#555').attr('stroke-width', 1.2);
        svg.append('text').attr('x', (bx(a) + bx(b)) / 2).attr('y', pn.boxTop + 50).attr('text-anchor', 'middle')
          .style('font-family', FONT).style('font-size', '44px').attr('fill', m === 'm7' ? '#8a8a8a' : '#000').text(m);
      });
      if (pn.star !== null) {
        svg.append('text').attr('x', bx(pn.star)).attr('y', pn.boxTop + 18).attr('text-anchor', 'middle')
          .style('font-family', FONT).style('font-size', '58px').style('font-weight', 'bold').text('*');
      }
    });

    if (e1Scale) {
      const es = e1Scale as d3.ScaleLinear<number, number>;
      svg.append('line').attr('x1', es(utrSpan[0])).attr('x2', es(utrSpan[1])).attr('y1', 2240).attr('y2', 2240)
        .attr('stroke', '#000').attr('stroke-width', 4);
      svg.append('text').attr('x', 1682).attr('y', 2302).attr('text-anchor', 'middle')
        .style('font-family', FONT).style('font-size', '46px').text('5\u2019UTR');
    }
    svg.append('rect').attr('x', 1936).attr('y', 2161).attr('width', scaleBarBp * pxPerBp).attr('height', 11).attr('fill', '#000');
    svg.append('text').attr('x', 1958).attr('y', 2236).attr('text-anchor', 'middle')
      .style('font-family', FONT).style('font-size', '46px').text(`${scaleBarBp} bp`);
  }, []);

  return (
    <div style={{ position: 'absolute', left: 0, top: 0 }}>
      <svg ref={ref} width={W} height={H} style={{ display: 'block', background: '#fff' }} />
    </div>
  );
}
